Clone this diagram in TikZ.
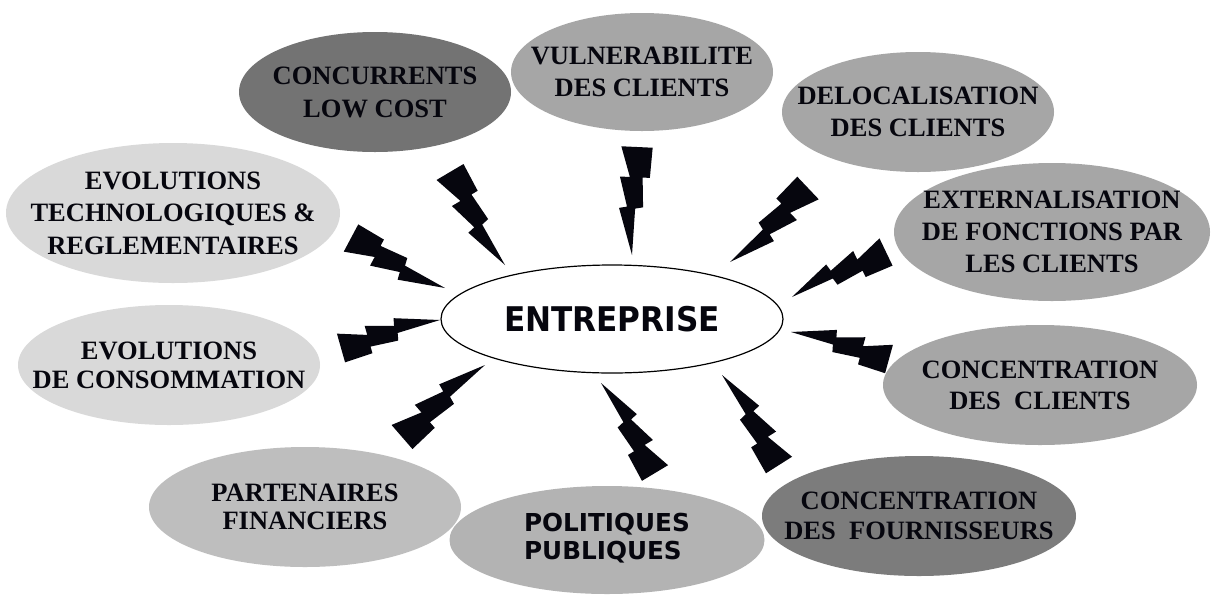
\documentclass[tikz,border=0pt]{standalone}
\usepackage{fontspec}
\setmainfont{Liberation Serif}
\newfontfamily\entfont[FakeStretch=0.915]{DejaVu Sans}
\newfontfamily\polfont{DejaVu Sans}
\usetikzlibrary{shapes.geometric}
\definecolor{inkc}{HTML}{06060E}
\definecolor{gdark}{HTML}{737373}
\definecolor{gdark2}{HTML}{7C7C7C}
\definecolor{gmid}{HTML}{A6A6A6}
\definecolor{gpart}{HTML}{BEBEBE}
\definecolor{gpol}{HTML}{B3B3B3}
\definecolor{glight}{HTML}{D9D9D9}
\newcommand\bubfont[1]{\fontsize{26.5}{#1}\selectfont\bfseries}
\newcommand\zap[5]{%
  \pgfmathsetmacro\zax{#3-#1}%
  \pgfmathsetmacro\zay{#2-#4}%
  \pgfmathsetmacro\zbx{(#5)*(#4-#2)}%
  \pgfmathsetmacro\zby{(#5)*(#3-#1)}%
  \fill[zapfill, shift={(#1,#2)}, x={(\zax pt,\zay pt)}, y={(\zbx pt,\zby pt)}]
    (0,0.145) -- (0.28,0.132) -- (0.28,0.065) -- (0.555,0.082) -- (0.57,0.009) -- (1,0)
    -- (0.57,-0.14) -- (0.555,-0.067) -- (0.28,-0.145) -- (0.28,-0.053) -- (0,-0.145) -- cycle;}
\begin{document}
\begin{tikzpicture}[x=1pt,y=-1pt,
  bubble/.style={ellipse, inner sep=0pt},
  lbl/.style={align=center, text=inkc, inner sep=0pt},
  zapfill/.style={fill=inkc}]
\useasboundingbox[fill=white] (0,0) rectangle (1212,603);
% surrounding ellipses
\node[bubble, fill=gdark, minimum width=272, minimum height=120,
  label={[lbl, font=\bubfont{33}]center:{CONCURRENTS\\LOW COST}}] (conc) at (375,92) {};
\node[bubble, fill=gmid, minimum width=262, minimum height=118,
  label={[lbl, font=\bubfont{31.5}]center:{VULNERABILITE\\DES CLIENTS}}] (vuln) at (642,72) {};
\node[bubble, fill=gmid, minimum width=272, minimum height=120,
  label={[lbl, font=\bubfont{32}]center:{DELOCALISATION\\DES CLIENTS}}] (deloc) at (918,112) {};
\node[bubble, fill=gmid, minimum width=316, minimum height=138,
  label={[lbl, font=\bubfont{32}]center:{EXTERNALISATION\\DE FONCTIONS PAR\\LES CLIENTS}}] (ext) at (1052,232) {};
\node[bubble, fill=glight, minimum width=334, minimum height=140,
  label={[lbl, font=\bubfont{32.5}]center:{EVOLUTIONS\\TECHNOLOGIQUES \&\\REGLEMENTAIRES}}] (evtech) at (173,213) {};
\node[bubble, fill=glight, minimum width=302, minimum height=120,
  label={[lbl, font=\bubfont{29}]center:{EVOLUTIONS\\DE CONSOMMATION}}] (evcons) at (169,365) {};
\node[bubble, fill=gpart, minimum width=312, minimum height=120,
  label={[lbl, font=\bubfont{28.5}]center:{PARTENAIRES\\FINANCIERS}}] (part) at (305,507) {};
\node[bubble, fill=gpol, minimum width=315, minimum height=108,
  label={[lbl, align=left, yshift=1.5, font=\polfont\bfseries\fontsize{24.7}{28}\selectfont]center:{POLITIQUES\\PUBLIQUES}}] (pol) at (607,540) {};
\node[bubble, fill=gmid, minimum width=314, minimum height=120,
  label={[lbl, font=\bubfont{31}]center:{CONCENTRATION\\DES\ \ CLIENTS}}] (cclients) at (1040,385) {};
\node[bubble, fill=gdark2, minimum width=314, minimum height=120,
  label={[lbl, font=\bubfont{30.6}]center:{CONCENTRATION\\DES\ \ FOURNISSEURS}}] (fourn) at (919,516) {};
% centre
\node[bubble, draw=black, line width=1.2pt, fill=white, minimum width=342, minimum height=108,
  label={[lbl, font=\entfont\bfseries\fontsize{34}{40}\selectfont]center:{ENTREPRISE}}] (ent) at (612,319) {};
% lightning bolts
\zap{450}{172}{505}{265}{1}
\zap{351}{238}{445}{288}{1}
\zap{637}{147}{632}{255}{1}
\zap{808}{188}{730}{262}{-1}
\zap{886}{252}{792}{297}{1}
\zap{889}{359}{791}{332}{1}
\zap{779}{465}{722}{375}{1}
\zap{655}{473}{601}{383}{1}
\zap{402}{437}{485}{365}{-1}
\zap{341}{348}{440}{320}{-1}
\end{tikzpicture}
\end{document}
